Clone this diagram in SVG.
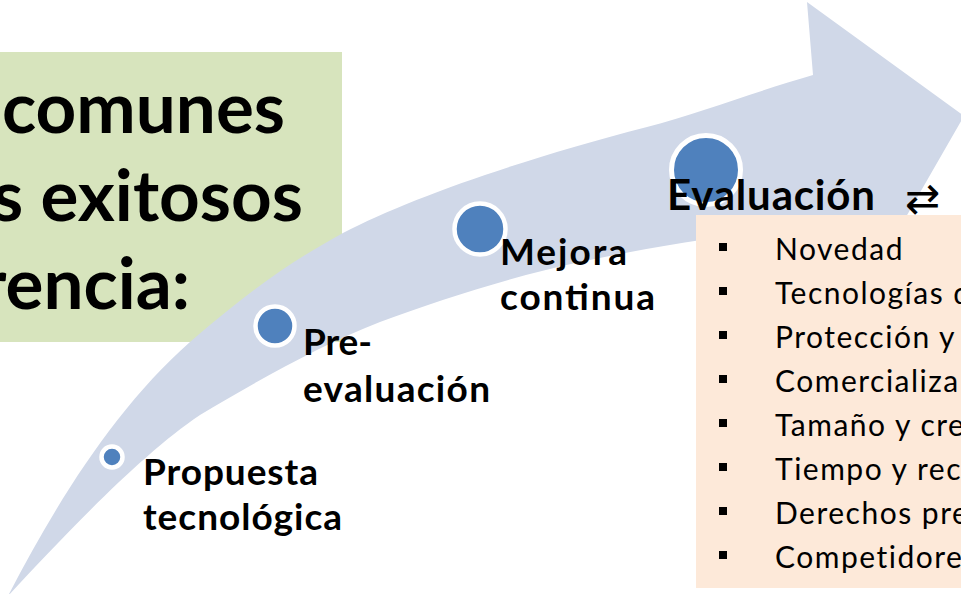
<svg xmlns="http://www.w3.org/2000/svg" width="961" height="594" viewBox="0 0 961 594">
<style>
.title{font-family:Lato,"Liberation Sans",sans-serif;font-weight:bold;font-size:71px;fill:#000}
.lbl{font-family:Lato,"Liberation Sans",sans-serif;font-weight:bold;font-size:37px;fill:#000}
.eval{font-family:Lato,"Liberation Sans",sans-serif;font-weight:bold;font-size:42px;fill:#000}
.item{font-family:Lato,"Liberation Sans",sans-serif;font-size:30px;letter-spacing:1.5px;fill:#000}
.dot{fill:#4f81bd;stroke:#fff}
.bul{fill:#000}
</style>
<rect width="961" height="594" fill="#fff"/>
<g id="title-box">
<rect x="-2" y="52" width="344" height="290" fill="#d7e4bd"/>
</g>
<g id="connectors">
<path d="M8,596 C55,505 115,408 190,342 C250,290 290,262 343,233 C410,198 520,160 647,127 C700,113 760,90 813,75 L807,2 L964,116 L864,290 L850,222 C760,230 660,245 580,262 C510,277 440,300 380,322 C320,345 250,385 200,415 C140,455 60,540 8,596 Z" fill="#d0d8e8"/>
</g>
<g id="title-text">
<text class="title" x="285" y="133" text-anchor="end">comunes</text>
<text class="title" x="303" y="221" text-anchor="end">os exitosos</text>
<text class="title" x="190" y="309" text-anchor="end">rencia:</text>
</g>
<g id="node-propuesta">
<circle class="dot" cx="112" cy="457" r="10.5" stroke-width="4.5"/>
<text class="lbl" x="143" y="485" textLength="175">Propuesta</text>
<text class="lbl" x="143" y="530" textLength="199">tecnológica</text>
</g>
<g id="node-pre">
<circle class="dot" cx="275" cy="326" r="19.5" stroke-width="4.5"/>
<text class="lbl" x="303" y="355" textLength="69">Pre-</text>
<text class="lbl" x="303" y="402" textLength="187">evaluación</text>
</g>
<g id="node-mejora">
<circle class="dot" cx="480" cy="229" r="25.5" stroke-width="4.5"/>
<text class="lbl" x="500" y="265" textLength="127">Mejora</text>
<text class="lbl" x="500" y="310" textLength="155">continua</text>
</g>
<g id="node-evaluacion">
<circle class="dot" cx="706" cy="170" r="34.5" stroke-width="5"/>
<rect x="696" y="215" width="270" height="373" fill="#fde9d9"/>
<text class="eval" x="667" y="210" textLength="208">Evaluación</text>
<text x="905" y="213" font-family="DejaVu Sans,sans-serif" font-size="42" fill="#000">⇄</text>
<rect class="bul" x="719" y="243" width="8" height="8"/>
<rect class="bul" x="719" y="287" width="8" height="8"/>
<rect class="bul" x="719" y="331" width="8" height="8"/>
<rect class="bul" x="719" y="375" width="8" height="8"/>
<rect class="bul" x="719" y="419" width="8" height="8"/>
<rect class="bul" x="719" y="463" width="8" height="8"/>
<rect class="bul" x="719" y="507" width="8" height="8"/>
<rect class="bul" x="719" y="551" width="8" height="8"/>
<text class="item" x="775" y="260">Novedad</text>
<text class="item" x="775" y="304">Tecnologías d</text>
<text class="item" x="775" y="348">Protección y</text>
<text class="item" x="775" y="392">Comercializa</text>
<text class="item" x="775" y="436">Tamaño y cre</text>
<text class="item" x="775" y="480">Tiempo y rec</text>
<text class="item" x="775" y="524">Derechos pre</text>
<text class="item" x="775" y="568">Competidore</text>
</g>
</svg>
